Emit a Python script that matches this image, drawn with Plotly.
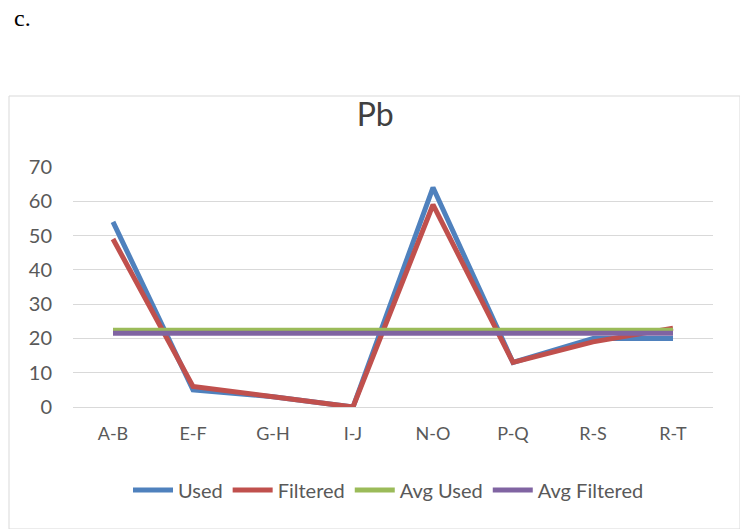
import plotly.graph_objects as go

# Sampling pairs and Pb readings
categories = ["A-B", "E-F", "G-H", "I-J", "N-O", "P-Q", "R-S", "R-T"]
used = [54, 5, 3, 0, 64, 13, 20, 20]
filtered = [49, 6, 3, 0, 59, 13, 19, 23]

avg_used = sum(used) / len(used)
avg_filtered = sum(filtered) / len(filtered)

series = [
    ("Used", used, "#4F81BD"),
    ("Filtered", filtered, "#C0504D"),
    ("Avg Used", [avg_used] * len(categories), "#9BBB59"),
    ("Avg Filtered", [avg_filtered] * len(categories), "#8064A2"),
]

fig = go.Figure()
for name, vals, color in series:
    fig.add_trace(go.Scatter(
        x=categories, y=vals, name=name, mode="lines",
        line=dict(color=color, width=5),
    ))

W, H = 740, 529
font_family = "Lato, 'Open Sans', sans-serif"

fig.update_layout(
    width=W, height=H,
    margin=dict(l=0, r=0, t=0, b=0, pad=0, autoexpand=False),
    paper_bgcolor="white",
    plot_bgcolor="white",
    font=dict(family=font_family, color="#595959", size=18),
    title=dict(text="Pb", x=0.507, xanchor="center", y=1 - 115 / H, yanchor="middle",
               font=dict(size=32, color="#404040", family=font_family)),
    xaxis=dict(
        domain=[73 / W, 713 / W],
        showgrid=False, showline=False, zeroline=False,
        ticks="", tickfont=dict(size=18, color="#595959"),
        ticklabelstandoff=14, automargin=False,
        range=[-0.5, len(categories) - 0.5],
    ),
    yaxis=dict(
        domain=[1 - 407 / H, 1 - 167 / H],
        range=[0, 70], dtick=10,
        showgrid=True, gridcolor="#D9D9D9", gridwidth=1.3,
        zeroline=True, zerolinecolor="#D9D9D9", zerolinewidth=1.3,
        showline=False, ticks="", ticklabelstandoff=20, automargin=False,
        tickfont=dict(size=20, color="#595959"),
    ),
    legend=dict(
        orientation="h", x=0.525, xanchor="center",
        y=1 - 490 / H, yanchor="middle",
        font=dict(size=20, color="#595959"),
        itemwidth=40, tracegroupgap=0,
    ),
    showlegend=True,
)

# Outer chart frame
fig.add_shape(type="rect", xref="paper", yref="paper",
              x0=9 / W, x1=1.0, y0=0.0, y1=1 - 96 / H,
              line=dict(color="#D9D9D9", width=1))

# Panel label
fig.add_annotation(text="c.", xref="paper", yref="paper",
                   x=12 / W, y=1 - 18 / H, xanchor="left", yanchor="middle",
                   showarrow=False,
                   font=dict(family="'Liberation Serif', 'Times New Roman', serif",
                             size=24, color="black"))

fig.write_html("out.html")
